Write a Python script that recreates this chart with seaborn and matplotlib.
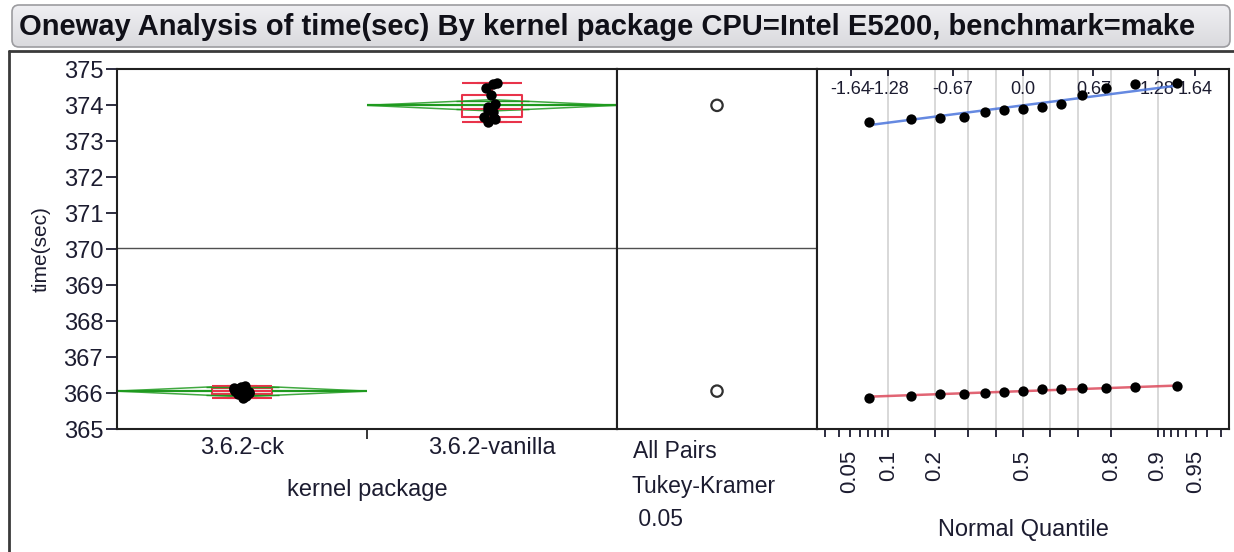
import numpy as np
import pandas as pd
import matplotlib.pyplot as plt
import seaborn as sns
from matplotlib.patches import Ellipse, FancyBboxPatch, Polygon
from statistics import NormalDist

sns.set_theme(style="ticks")
plt.rcParams['font.family'] = ['Liberation Sans', 'DejaVu Sans']

# values (time in seconds, 13 runs per kernel)
groups = ['3.6.2-ck', '3.6.2-vanilla']
ck_times = [365.86, 365.91, 365.96, 365.97, 366.01, 366.04, 366.06,
            366.10, 366.12, 366.13, 366.14, 366.18, 366.20]
vanilla_times = [373.52, 373.61, 373.63, 373.68, 373.80, 373.85, 373.89,
                 373.95, 374.02, 374.28, 374.46, 374.58, 374.60]
y_ticks = list(range(365, 376))
prob_labeled = [0.05, 0.1, 0.2, 0.5, 0.8, 0.9, 0.95]
prob_grid = [0.1, 0.2, 0.3, 0.4, 0.5, 0.6, 0.7, 0.8, 0.9]
prob_ticks = [0.03, 0.04, 0.05, 0.06, 0.07, 0.08, 0.09, 0.1, 0.2, 0.3, 0.4,
              0.5, 0.6, 0.7, 0.8, 0.9, 0.91, 0.92, 0.93, 0.94, 0.95, 0.96, 0.97]
z_labels = [-1.64, -1.28, -0.67, 0.0, 0.67, 1.28, 1.64]
z_text = ['-1.64', '-1.28', '-0.67', '0.0', '0.67', '1.28', '1.64']
t_crit = 2.064  # t(0.975, df=24)

df = pd.DataFrame({
    'kernel': [groups[0]] * len(ck_times) + [groups[1]] * len(vanilla_times),
    'time': ck_times + vanilla_times,
})
data = {groups[0]: np.array(ck_times), groups[1]: np.array(vanilla_times)}

RED = '#e8334a'
GREEN = '#1f9a1f'
BLUE = '#4a74dc'
QRED = '#dc4a5c'
TXT = '#1c1c30'

W, H = 1234, 552
fig = plt.figure(figsize=(W / 100, H / 100), dpi=100)


def px(x, y, w, h):
    return [x / W, 1 - (y + h) / H, w / W, h / H]


# background: JMP outline header and frame
bg = fig.add_axes([0, 0, 1, 1], zorder=-1)
bg.set_xlim(0, W)
bg.set_ylim(H, 0)
bg.axis('off')
bar = FancyBboxPatch((12, 5), 1218, 42, boxstyle='round,pad=0,rounding_size=7',
                     facecolor='none', edgecolor='#9c9ca0', lw=1.2)
bg.add_patch(bar)
grad = np.linspace(0, 1, 50).reshape(-1, 1)
im = bg.imshow(grad, extent=(12, 1230, 47, 5), cmap=plt.matplotlib.colors.LinearSegmentedColormap.from_list(
    'g', ['#efeff2', '#dadade']), aspect='auto', zorder=0)
im.set_clip_path(bar)
bg.plot([9, W], [51, 51], color='#3a3a3a', lw=2)
bg.plot([9, 9], [51, H], color='#3a3a3a', lw=2)
bg.text(19, 27, 'Oneway Analysis of time(sec) By kernel package CPU=Intel E5200, benchmark=make',
        fontsize=21, fontweight='bold', va='center', ha='left', color='#101018')

pooled = sum(((v - v.mean()) ** 2).sum() for v in data.values())
mse = pooled / (len(df) - len(groups))
grand = df['time'].mean()

# ---- left panel: points, box plots, means diamonds
ax1 = fig.add_axes(px(117, 69, 500, 360))
sns.boxplot(data=df, x='kernel', y='time', order=groups, whis=(0, 100), width=0.24,
            fill=False, color=RED, linewidth=1.5, showfliers=False, ax=ax1)
for i, g in enumerate(groups):
    v = data[g]
    m = v.mean()
    ci = t_crit * np.sqrt(mse / len(v))
    ax1.hlines([v.min(), v.max()], i - 0.12, i + 0.12, color=RED, lw=1.5)
    ax1.add_patch(Polygon([(i - 0.5, m), (i, m + ci), (i + 0.5, m), (i, m - ci)],
                          closed=True, fill=False, edgecolor=GREEN, lw=1.1, alpha=0.85))
    ax1.hlines(m, i - 0.5, i + 0.5, color=GREEN, lw=1.6)
    h = ci / np.sqrt(2)
    ax1.hlines([m - h, m + h], i - 0.146, i + 0.146, color=GREEN, lw=1.0)
np.random.seed(3)
sns.stripplot(data=df, x='kernel', y='time', order=groups, color='black', size=7.5,
              jitter=0.035, linewidth=0, ax=ax1, zorder=5)
ax1.axhline(grand, color='#505050', lw=1)
ax1.set_xlim(-0.5, 1.5)
ax1.set_ylim(365, 375)
ax1.set_yticks(y_ticks)
ax1.tick_params(axis='y', labelsize=17, length=8, width=1.3, pad=2, colors=TXT)
ax1.set_xticks([0, 1], groups)
ax1.set_xticks([0.5], minor=True)
ax1.tick_params(axis='x', which='major', length=0, labelsize=17, pad=6, colors=TXT)
ax1.tick_params(axis='x', which='minor', length=7, width=1.3, bottom=True)
ax1.set_xlabel('kernel package', fontsize=17, color=TXT, labelpad=14)
ax1.set_ylabel('time(sec)', fontsize=15, color=TXT, labelpad=9)

# ---- middle panel: comparison circles
ax2 = fig.add_axes(px(617, 69, 200, 360))
ax2.set_xlim(0, 1)
ax2.set_ylim(365, 375)
ax2.axhline(grand, color='#505050', lw=1)
for g in groups:
    v = data[g]
    r = t_crit * np.sqrt(mse / len(v))
    ax2.add_patch(Ellipse((0.5, v.mean()), width=2 * r * 36 / 200, height=2 * r,
                          fill=False, edgecolor='#303030', lw=1.6))
ax2.set_xticks([])
ax2.set_yticks([])
for txt, yy, xx in [('All Pairs', 451, 633), ('Tukey-Kramer', 486, 632), (' 0.05', 520, 632)]:
    bg.text(xx, yy, txt, fontsize=16.5, va='center', ha='left', color=TXT)

# ---- right panel: normal quantile plot
ax3 = fig.add_axes(px(817, 69, 412, 360))
nd = NormalDist()
for p in prob_grid:
    ax3.axvline(nd.inv_cdf(p), color='#d6d6d6', lw=1.3, zorder=0)
for g, col in zip(groups, [QRED, BLUE]):
    v = np.sort(data[g])
    n = len(v)
    z = np.array([nd.inv_cdf(k / (n + 1)) for k in range(1, n + 1)])
    m, sd = v.mean(), v.std(ddof=1)
    sns.lineplot(x=[z[0], z[-1]], y=[m + sd * z[0], m + sd * z[-1]], color=col,
                 lw=1.8, alpha=0.85, ax=ax3)
    sns.scatterplot(x=z, y=v, color='black', s=55, linewidth=0, ax=ax3, zorder=5)
ax3.set_xlim(-1.96, 1.96)
ax3.set_ylim(365, 375)
ax3.set_yticks([])
ax3.set_xticks([nd.inv_cdf(p) for p in prob_ticks],
               [f'{p:g}' if p in prob_labeled else '' for p in prob_ticks], rotation=90)
ax3.tick_params(axis='x', length=6, width=1.3, labelsize=16, pad=9, colors=TXT)
ax3.set_xlabel('Normal Quantile', fontsize=17, color=TXT, labelpad=19)
sec = ax3.secondary_xaxis('top')
sec.set_xticks(z_labels, z_text)
sec.tick_params(direction='in', length=5, width=1.3, labelsize=13, pad=-21, colors=TXT)

for ax in (ax1, ax2, ax3):
    for s in ax.spines.values():
        s.set_visible(True)
        s.set_color('#202020')
        s.set_linewidth(1.5)
sec.spines['top'].set_visible(False)

fig.savefig('out.png', dpi=100)
